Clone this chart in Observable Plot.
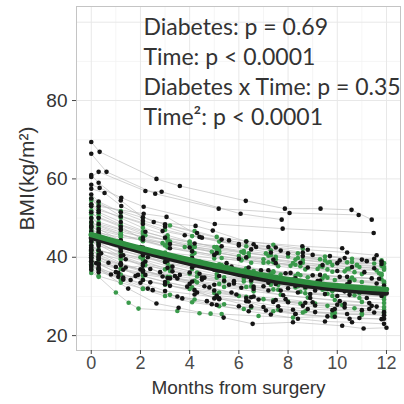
<!DOCTYPE html>
<html>
<head>
<meta charset="utf-8">
<script src="https://cdn.jsdelivr.net/npm/d3@7"></script>
<script src="https://cdn.jsdelivr.net/npm/@observablehq/plot@0.6"></script>
<style>
  html, body { margin: 0; padding: 0; background: #fff; }
  #chart { width: 404px; height: 404px; }
</style>
</head>
<body>
<div id="chart"></div>
<script>
// ---------- data ----------
const xTicks = [0, 2, 4, 6, 8, 10, 12];
const yTicks = [20, 40, 60, 80];
const xMinor = [1, 3, 5, 7, 9, 11];
const yMinor = [30, 50, 70, 90];
const annotationLines = [
  "Diabetes: p = 0.69",
  "Time: p < 0.0001",
  "Diabetes x Time: p = 0.35",
  "Time\u00B2: p < 0.0001"
];
const xTitle = "Months from surgery";
const yTitle = "BMI(kg/m\u00B2)";

// Non-diabetic patients (black): [months, BMI] visits
const blackSubjects = [
  [[0,69.4],[0.34,66.9],[2.65,60],[3.6,58.2],[6.28,54.4],[7.87,52.4],[9.32,52.4],[10.58,52.1],[11.4,49.6]],
  [[0,66.4],[0.62,61.8],[2.6,56.2],[5.18,52.4],[8.06,51.3],[10.87,50.8]],
  [[0,60.5],[0.3,61.8],[2.2,56.9],[2.86,56.7],[6.07,51.1],[7.74,49.6]],
  [[0,58.5],[0.34,57.7],[1.22,55.2],[2.13,52.9],[5.02,48.5],[7.78,47.3],[11.48,46.2]],
  [[0,57.5],[0.54,56.4],[1.22,53.1],[2.54,49],[4.24,48],[4.94,46.8],[6.3,44],[8.58,42.8],[10.2,42.3]],
  [[0,55],[0.3,53],[2.13,51.1],[3.06,50.3],[4.5,45],[6,43],[8,41],[10,38.5],[11.8,38.3]],
  [[0,48],[0.3,46.5],[1.2,44.2],[2.1,42.5],[3.1,40.1],[4.2,38.8],[5.3,37],[6.4,35.2],[7.5,34.6],[8.5,33.1],[9.6,32.5],[10.7,31.8],[11.8,31]],
  [[0,45],[0.3,43.8],[1.3,40.5],[2.2,38.9],[3.3,36.4],[4.5,34.8],[5.6,33],[6.6,31.9],[7.8,30.3],[8.9,29.6],[10.1,28.8],[11.3,28.3]],
  [[0,42],[0.3,40.6],[1.2,38.2],[2.0,36.9],[2.9,35.1],[4.0,33.2],[5.0,31.5],[6.5,29.8],[7.4,28.6],[8.6,27.6],[9.9,26.8],[11.0,26.5],[11.9,26]],
  [[0,40],[0.2,38.5],[1.1,36],[2.1,34.2],[3.0,33.1],[4.3,31],[5.2,29.5],[6.5,27.5],[7.7,26.4],[8.3,25.5],[9.9,24.8],[10.5,24.3],[11.9,24.3]],
  [[0,38],[0.3,37],[1.5,32],[2.65,28.2],[3.55,27.1],[5.38,24.6],[6.56,23],[8.2,23.4],[10.2,22.5],[11.07,21.8],[12,22]],
  [[0,44],[0.3,42.9],[1.2,41.5],[2.1,40.5],[3.0,38.8],[4.1,37.4],[5.2,36.6],[6.2,35.5],[7.1,35],[8.3,34.6],[9.3,34],[10.5,33.7],[11.6,33.3]],
  [[0,50],[0.3,48.5],[1.2,47],[2.1,45],[3.2,43.4],[4.0,42.5],[5.1,41.1],[6.3,40],[7.4,39.4],[8.5,38.6],[9.4,38],[10.6,37.5],[11.5,37.2]],
  [[0,53],[0.3,51.5],[1.2,49],[2.2,46.5],[3.0,45],[4.2,43.5],[5.3,42.8],[6.5,42],[7.3,41.2],[8.6,40.3],[10.1,39.2],[11.2,39]],
  [[0,43],[0.4,41],[1.2,38.5],[2.1,36.7],[3.2,34.6],[4.6,32.6],[5.7,31],[6.6,30],[7.9,29.3],[9.0,28.5],[10.3,28.1],[11.4,27.6]],
  [[0,39],[0.3,38.2],[1.3,36.8],[2.2,35.5],[3.1,34.7],[4.1,33.8],[5.0,33],[6.1,32.2],[7.2,31.5],[8.4,31],[9.5,30.6],[10.5,30.4],[11.8,30.1]],
  [[0,41],[0.3,39.5],[1.0,37.5],[1.9,35.5],[3.0,33.7],[3.9,32.5],[5.0,29.5],[5.2,29.3],[6.4,28.7],[7.6,27.5],[8.8,26.8],[9.8,26.5],[11.5,25.9]],
  [[0,46.5],[0.3,45.5],[1.2,43.8],[2.0,42.6],[3.0,40.7],[4.1,39.8],[5.5,38.5],[6.4,37.4],[7.2,36.7],[8.1,36],[9.3,35.5],[10.4,35],[11.7,34.5]],
  [[0,47.5],[0.3,46],[1.2,43],[2.3,40],[3.3,37.6],[4.4,35.8],[5.4,34],[6.6,32.5],[7.7,31.5],[8.9,30.6],[10.0,30.1],[11.2,29.6]],
  [[0,40.5],[0.3,39.8],[1.2,38],[2.1,36.3],[3.4,35.2],[4.5,34.3],[5.8,33.3],[7.0,32.6],[8.0,32.1],[9.1,31.5],[10.3,31.3],[11.9,31]],
  [[0,36.8],[0.3,36.2],[1.1,35],[2.0,33.5],[3.0,31.4],[4.2,30.5],[5.1,29.8],[6.3,28.8],[7.0,27.3],[8.2,26.6],[9.1,26],[10.4,25.5],[11.9,25.2]],
  [[0,51.5],[0.3,50],[1.2,47.8],[2.1,44.5],[3.2,42.3],[4.1,41.5],[5.0,40.6],[6.0,39.6],[7.5,38.5],[8.8,37.4],[10.0,36.5],[11.1,36.2]],
  [[0,42.5],[0.3,41.8],[1.2,40.3],[2.1,38.4],[3.1,37.3],[4.0,36.1],[5.2,35.2],[6.5,34.1],[7.5,33.2],[8.7,32.4],[9.7,31.9],[10.9,31.3],[11.9,30.8]],
  [[0,44.8],[0.3,43.2],[1.4,39.5],[2.4,37],[3.5,34.6],[4.8,32.3],[5.9,30.5],[6.8,29.2],[8.0,28.5],[9.1,27.7],[10.3,27.2],[11.3,26.8]],
  [[0,38.8],[0.3,37.5],[1.3,34.3],[2.3,32],[3.5,30],[4.7,28.8],[6.0,27.5],[7.1,26.4],[8.3,25.5],[9.6,24.9],[10.9,24.5],[11.8,24.2]],
  [[0,49],[0.3,47.2],[1.2,44.3],[2.1,42],[3.0,40.2],[4.3,38.6],[5.7,37.6],[6.9,36.7],[7.9,35.9],[9.0,35.4],[10.1,35],[11.4,34.6]],
  [[0,56],[0.3,54.2],[1.2,51.5],[2.1,49.3],[3.0,47.8],[4.4,45.2],[6.0,43.4],[7.2,42.6],[8.6,41.2],[9.7,40.3],[11.0,39.4],[11.8,38.9]],
  [[0,37.5],[0.3,36.8],[0.8,35.6],[1.3,34.8],[1.8,35.2],[2.4,33.6],[3.2,32.7],[4.2,31.6],[5.1,30.2],[6.3,29.6],[7.5,29.1],[8.7,28.4],[10.0,27.9],[11.6,27.4]],
  [[0,41.8],[0.3,40.2],[0.7,38.6],[1.4,37.4],[2.1,37.8],[2.8,36.2],[3.6,35.5],[4.6,34.8],[5.8,33.9],[7.2,33.5],[8.3,32.7],[9.6,32],[10.8,31.8]],
  [[0,53.5],[0.3,52],[1.2,50.4],[2.1,48.5],[2.9,46.7],[3.8,45.6],[5.3,44.5],[6.6,43.3],[7.5,42.5],[8.8,41.9],[10.4,41.2],[11.6,40.5]],
  [[0,39.6],[0.3,38.4],[1.0,36.2],[1.6,34.2],[2.5,31.6],[3.7,29.5],[4.9,28],[5.1,27.8],[6.4,26.2],[7.3,25.4],[8.4,24.3],[9.5,23.6],[10.6,23.4],[11.9,23]],
  [[0,45.8],[0.3,44.6],[1.2,42.3],[2.1,40.9],[3.1,39.1],[4.2,37.9],[5.0,36.8],[6.2,36.4],[7.1,35.2],[8.2,34.3],[9.2,33.9],[10.4,33.1],[11.9,32.8]],
  [[0,61],[0.3,59],[1.2,54.5],[2.1,50.2],[3.0,48.4],[4.3,46.2],[5.6,44.3],[6.7,42.6],[7.7,41.7],[9.0,40.6],[10.3,39.8],[11.5,39.6]]
];

// Diabetic patients (green): [months, BMI] visits
const greenSubjects = [
  [[0,55],[0.3,54],[1.2,50.5],[2.1,48.8],[3.0,47],[4.1,45.4],[5.2,44],[6.3,42.8],[7.3,41.8],[8.4,41],[9.5,40.2],[10.6,39.6],[11.8,39.2]],
  [[0,52],[0.3,51],[1.2,48.3],[2.1,46.5],[3.1,45],[4.0,43.9],[5.1,42.6],[6.2,41.6],[7.1,41],[8.0,40.2],[9.3,39.5],[10.4,38.7],[11.5,38.4]],
  [[0,50],[0.3,49],[1.2,47.2],[2.2,45.6],[3.2,44],[4.2,42.7],[5.2,41.5],[6.4,40.3],[7.5,39.5],[8.6,38.6],[9.8,38],[10.9,37.5],[11.9,37.1]],
  [[0,48],[0.3,47.5],[1.2,45.8],[2.1,44.2],[3.0,43],[4.1,41.6],[5.0,40.5],[6.1,39.4],[7.0,38.6],[8.1,37.8],[9.2,37],[10.3,36.4],[11.7,35.9]],
  [[0,47],[0.3,46],[1.1,44],[2.0,42.4],[3.0,40.8],[4.0,39.5],[5.2,38.2],[6.3,37],[7.4,36.2],[8.5,35.4],[9.6,34.8],[10.7,34.2],[11.9,33.8]],
  [[0,46],[0.3,45.3],[1.2,43.6],[2.2,41.8],[3.3,40.2],[4.4,38.9],[5.5,37.7],[6.6,36.5],[7.7,35.6],[8.8,34.9],[9.9,34.2],[11.0,33.7],[11.9,33.3]],
  [[0,44.5],[0.3,44],[1.2,42.5],[2.1,41.3],[3.1,40],[4.2,39],[5.3,38],[6.3,37.2],[7.4,36.4],[8.4,35.8],[9.5,35.3],[10.6,34.8],[11.8,34.4]],
  [[0,43],[0.3,42],[1.2,39.8],[2.2,38],[3.2,36.5],[4.3,35.1],[5.4,33.8],[6.5,32.6],[7.6,31.7],[8.7,30.8],[9.8,30.1],[10.9,29.6],[11.9,29.2]],
  [[0,41.5],[0.3,41],[1.2,39.4],[2.1,38.1],[3.0,36.9],[4.0,35.8],[5.1,34.8],[6.2,33.8],[7.3,33],[8.3,32.3],[9.4,31.7],[10.5,31.2],[11.8,30.9]],
  [[0,40],[0.3,39.2],[1.2,37],[2.1,35.2],[3.1,33.6],[4.1,32.3],[5.2,31],[6.3,29.9],[7.4,29],[8.5,28.2],[9.6,27.6],[10.7,27],[11.9,26.6]],
  [[0,37],[0.3,35],[1.0,31],[1.52,28.4],[1.92,26.9],[3.5,26.3],[4.4,25.7],[4.85,25.6],[5.3,25.5],[6.8,25],[8.2,24.6],[9.8,24.9]],
  [[0,36],[0.3,35.2],[1.2,33.5],[2.1,32],[3.2,30.4],[4.2,29.2],[5.4,28],[6.5,27.2],[7.6,26.6],[8.7,26.2],[9.9,25.8],[11.0,25.7],[11.9,25.9]],
  [[0,39],[0.3,38.5],[1.2,37.1],[2.1,36],[3.1,35],[4.2,34],[5.2,33.2],[6.3,32.4],[7.4,31.8],[8.5,31.2],[9.6,30.7],[10.7,30.3],[11.9,30]],
  [[0,45],[0.3,44.2],[1.2,42],[2.1,40],[3.1,38.4],[4.1,37],[5.1,35.7],[6.2,34.5],[7.3,33.5],[8.4,32.6],[9.5,31.9],[10.6,31.4],[11.9,31]],
  [[0,49],[0.3,48],[1.2,45.9],[2.1,44.1],[3.1,42.5],[4.2,41.1],[5.3,39.8],[6.5,38.6],[7.6,37.7],[8.7,36.9],[9.8,36.3],[11.0,35.7],[11.8,35.4]],
  [[0,53.5],[0.3,52.5],[1.2,50],[2.1,47.5],[3.1,45.6],[4.0,44],[5.0,42.6],[6.1,41.4],[7.2,40.4],[8.3,39.4],[9.6,38.6],[10.8,37.9],[11.9,37.5]],
  [[0,42],[0.3,41.5],[1.2,40.8],[2.0,40],[3.0,39],[4.1,38.2],[5.1,37.4],[6.2,36.6],[7.3,35.9],[8.3,35.2],[9.4,34.6],[10.5,34.1],[11.9,33.5]],
  [[0,47.8],[0.3,47],[1.2,45.5],[2.0,44.8],[2.9,43.6],[3.8,42.6],[4.9,41.4],[6.0,40.3],[7.0,39.5],[8.2,38.5],[9.3,37.7],[10.4,37],[11.6,36.6]],
  [[0,40.8],[0.3,40],[1.2,38.2],[2.1,36.6],[3.2,35],[4.3,33.6],[5.4,32.4],[6.6,31.3],[7.7,30.4],[8.8,29.7],[9.9,29.1],[11.0,28.6],[11.9,28.3]],
  [[0,51],[0.3,50.2],[1.2,48.1],[2.1,46],[3.1,44.2],[4.1,42.6],[5.2,41.1],[6.3,39.8],[7.4,38.7],[8.5,37.7],[9.6,36.9],[10.7,36.2],[11.8,35.8]],
  [[0,44],[0.3,43.5],[1.2,41.2],[2.1,39.4],[3.2,37.6],[4.3,36.1],[5.4,34.9],[6.5,33.7],[7.6,32.9],[8.7,32],[9.8,31.3],[10.9,30.8],[11.9,30.4]],
  [[0,37.8],[0.3,37],[1.2,35.6],[2.1,34.2],[3.0,33],[4.0,31.9],[5.0,30.9],[6.0,30.1],[7.0,29.3],[8.0,28.7],[9.1,28.2],[10.2,27.8],[11.9,27.3]],
  [[0,46.8],[0.3,46.2],[1.2,45.1],[2.1,44.4],[3.1,43.5],[4.2,42.6],[5.1,41.9],[6.2,41.1],[7.3,40.5],[8.4,39.8],[9.5,39.2],[10.6,38.8],[11.9,38.5]],
  [[0,43.8],[0.3,43.6],[1.2,42.8],[2.1,42],[3.0,41.2],[4.1,40.5],[5.0,39.7],[6.1,39.2],[7.2,38.7],[8.3,38.1],[9.4,37.6],[10.5,37.1],[11.9,36.8]],
  [[0,54.5],[0.3,53.4],[1.2,51.8],[2.1,50.1],[3.2,48.1],[4.2,46.7],[5.1,45.2],[6.3,44.1],[7.4,43.2],[8.6,42.2]],
  [[0,38.2],[0.3,37.1],[1.2,34.2],[2.1,31.9],[3.0,30.1],[4.1,28.5],[5.2,27.5],[6.2,26.8],[7.4,26.2],[8.6,25.9],[9.8,25.6],[11.0,25.3],[11.9,25.6]],
  [[0,48.6],[0.3,48.2],[1.2,46.4],[2.1,45.3],[3.1,44.4],[4.0,43.3],[5.2,42.2],[6.4,41],[7.5,40.1],[8.6,39.3],[9.7,38.8],[10.8,38.1],[11.8,37.8]]
];

// Fitted mean trajectories
const fitMonths = [0,1,2,3,4,5,6,7,8,9,10,11,12];
const greenFit = [45.8,44.0,42.3,40.8,39.3,37.9,36.6,35.4,34.3,33.4,32.7,32.2,31.8];
const blackFit = [45.0,43.2,41.5,39.9,38.4,37.0,35.6,34.4,33.4,32.5,31.8,31.2,30.8];

// ---------- tables ----------
function flatten(subjects, group) {
  const rows = [];
  subjects.forEach((visits, i) => {
    visits.forEach(([t, bmi]) => rows.push({id: group + i, group, t, bmi}));
  });
  return rows;
}
const blackRows = flatten(blackSubjects, "no");
const greenRows = flatten(greenSubjects, "yes");
const allRows = greenRows.concat(blackRows);
const greenFitRows = fitMonths.map((t, i) => ({t, bmi: greenFit[i]}));
const blackFitRows = fitMonths.map((t, i) => ({t, bmi: blackFit[i]}));

const BLACK = "#151515";
const GREEN = "#3a9a4b";
const GREEN_LINE = "#2f8f40";
const SANS = "Liberation Sans, Arial, sans-serif";

const chart = Plot.plot({
  width: 404,
  height: 404,
  marginLeft: 76,
  marginRight: 4,
  marginTop: 6,
  marginBottom: 54,
  style: {fontFamily: SANS, fontSize: "18px", color: "#333", background: "#fff"},
  x: {domain: [-0.6, 12.57], ticks: xTicks},
  y: {domain: [16.2, 104], ticks: yTicks},
  marks: [
    Plot.gridX(xMinor, {stroke: "#f3f3f3", strokeOpacity: 1, strokeWidth: 0.8}),
    Plot.gridY(yMinor, {stroke: "#f3f3f3", strokeOpacity: 1, strokeWidth: 0.8}),
    Plot.gridX(xTicks, {stroke: "#e8e8e8", strokeOpacity: 1, strokeWidth: 1}),
    Plot.gridY(yTicks.concat([100]), {stroke: "#e8e8e8", strokeOpacity: 1, strokeWidth: 1}),
    Plot.line(allRows, {x: "t", y: "bmi", z: "id", stroke: "#b9b9b9", strokeWidth: 0.7, strokeOpacity: 0.9}),
    Plot.dot(greenRows, {x: "t", y: "bmi", r: 2.3, fill: GREEN, stroke: "none"}),
    Plot.dot(blackRows, {x: "t", y: "bmi", r: 2.3, fill: BLACK, stroke: "none"}),
    Plot.line(blackFitRows, {x: "t", y: "bmi", stroke: "#1e1e1e", strokeWidth: 5, curve: "natural"}),
    Plot.line(greenFitRows, {x: "t", y: "bmi", stroke: GREEN_LINE, strokeWidth: 5.5, curve: "natural"}),
    Plot.frame({stroke: "#c4c4c4", strokeWidth: 1}),
    Plot.axisX({ticks: xTicks, tickSize: 4, tickPadding: 2, label: null, stroke: "#444", fill: "#4a4a4a", fontSize: 18, fontFamily: SANS}),
    Plot.axisY({ticks: yTicks, tickSize: 4, tickPadding: 5, label: null, stroke: "#444", fill: "#333", fontSize: 19, fontFamily: SANS}),
    Plot.text([xTitle], {frameAnchor: "bottom", text: d => d, dy: 37, lineAnchor: "middle", textAnchor: "middle", fontSize: 19, fontFamily: SANS, fill: "#333"}),
    Plot.text([yTitle], {frameAnchor: "left", text: d => d, dx: -49, rotate: -90, lineAnchor: "middle", textAnchor: "middle", fontSize: 21, fontFamily: SANS, fill: "#333"}),
    Plot.text([annotationLines.join("\n")], {
      frameAnchor: "top-left", text: d => d, dx: 67, dy: 7, lineAnchor: "top", textAnchor: "start",
      lineHeight: 1.31, fontSize: 23, fontFamily: "Lato, 'Open Sans', sans-serif", fill: "#333"
    })
  ]
});
document.getElementById("chart").appendChild(chart);
</script>
</body>
</html>
